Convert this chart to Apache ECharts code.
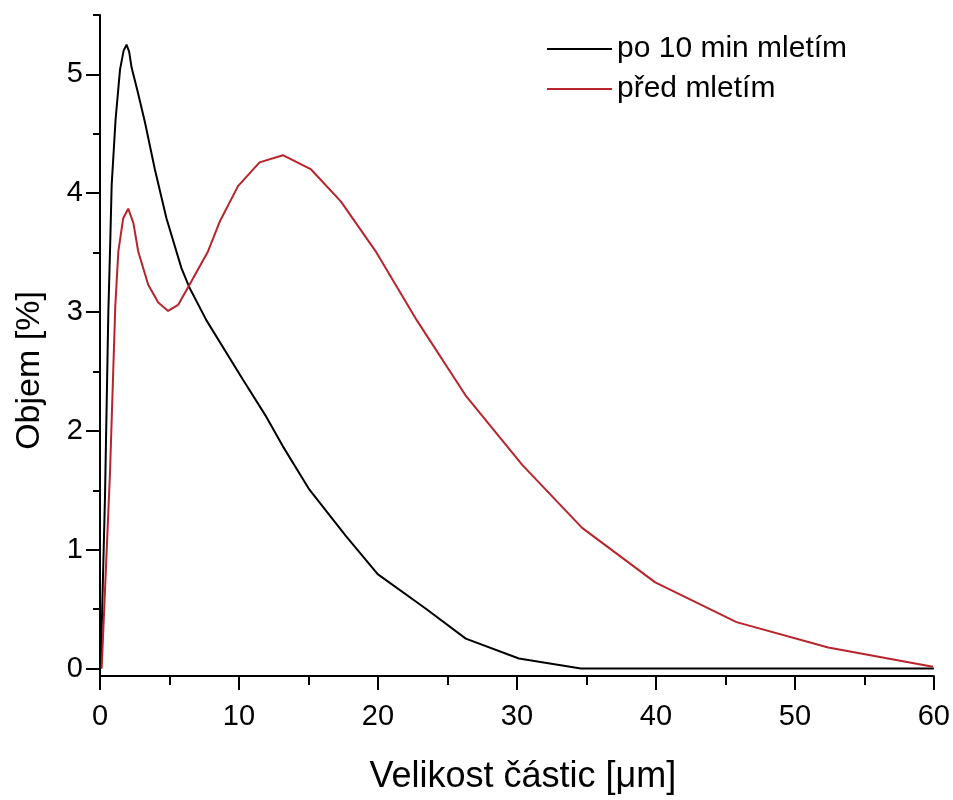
<!DOCTYPE html>
<html>
<head>
<meta charset="utf-8">
<script src="https://cdn.jsdelivr.net/npm/echarts@6/dist/echarts.min.js"></script>
<style>html,body{margin:0;padding:0;background:#fff}#c{width:953px;height:800px}</style>
</head>
<body>
<div id="c"></div>
<script>
// Series 1: po 10 min mletím (black)
const milledSize = [0.05,0.36,0.6,0.72,0.84,1.12,1.44,1.7,1.91,2.1,2.27,2.7,3.23,3.95,4.78,5.86,6.46,7.66,10.29,11.96,13.16,15.07,17.7,19.98,23.45,26.32,30.14,34.6,60];
const milledVol  = [0,1.45,3.0,3.51,4.07,4.62,5.04,5.2,5.25,5.19,5.06,4.86,4.6,4.2,3.79,3.37,3.2,2.93,2.43,2.12,1.87,1.505,1.115,0.795,0.503,0.252,0.085,0,0];
// Series 2: před mletím (red)
const rawSize = [0.12,0.72,1.1,1.32,1.67,2.03,2.4,2.75,3.47,4.19,4.9,5.62,6.58,7.77,8.61,9.93,11.48,13.16,15.19,17.34,19.9,22.8,26.3,30.38,34.69,39.95,45.8,52.4,59.93];
const rawVol  = [0,1.65,3.05,3.51,3.79,3.87,3.75,3.51,3.23,3.08,3.01,3.06,3.26,3.51,3.76,4.06,4.26,4.32,4.2,3.93,3.5,2.93,2.3,1.714,1.184,0.725,0.391,0.177,0.015];
// Axis ticks
const xTicks = [0,10,20,30,40,50,60];
const xMinorTicks = [5,15,25,35,45,55];
const yTicks = [0,1,2,3,4,5];
const yMinorTicks = [0.5,1.5,2.5,3.5,4.5,5.5];
const seriesNames = ['po 10 min mletím','před mletím'];

const FONT = 'Liberation Sans, Arial, Helvetica, sans-serif';
const zip = (a,b) => a.map((v,i)=>[v,b[i]]);

const chart = echarts.init(document.getElementById('c'), null, {renderer:'canvas'});
const axisLineStyle = {color:'#000', width:2};
chart.setOption({
  backgroundColor:'#fff',
  animation:false,
  grid:{left:100, right:17, top:15, bottom:119},
  legend:{
    orient:'vertical', left:542, top:24, itemWidth:65, itemHeight:2, itemGap:0,
    icon:'rect',
    textStyle:{fontFamily:FONT, fontSize:30, color:'#000', lineHeight:40},
    data:seriesNames
  },
  xAxis:[{
    type:'value', min:0, max:60, position:'bottom',
    name:'Velikost částic [μm]', nameLocation:'middle', nameGap:83,
    nameTextStyle:{fontFamily:FONT, fontSize:36, color:'#000', padding:[0,0,0,12]},
    axisLine:{show:true, onZero:false, lineStyle:axisLineStyle},
    axisTick:{show:true, customValues:xTicks, length:14, lineStyle:axisLineStyle},
    axisLabel:{customValues:xTicks, margin:26, fontFamily:FONT, fontSize:29, color:'#000'},
    splitLine:{show:false}
  },{
    type:'value', min:0, max:60, position:'bottom',
    axisLine:{show:false, onZero:false},
    axisTick:{show:true, customValues:xMinorTicks, length:9, lineStyle:axisLineStyle},
    axisLabel:{show:false},
    splitLine:{show:false}
  }],
  yAxis:[{
    type:'value', min:-0.0625, max:5.5, position:'left',
    name:'Objem [%]', nameLocation:'middle', nameGap:53, nameRotate:90,
    nameTextStyle:{fontFamily:FONT, fontSize:34, color:'#000', padding:[0,50,0,0]},
    axisLine:{show:true, onZero:false, lineStyle:axisLineStyle},
    axisTick:{show:true, customValues:yTicks, length:14, lineStyle:axisLineStyle},
    axisLabel:{customValues:yTicks, margin:17, fontFamily:FONT, fontSize:29, color:'#000'},
    splitLine:{show:false}
  },{
    type:'value', min:-0.0625, max:5.5, position:'left',
    axisLine:{show:false, onZero:false},
    axisTick:{show:true, customValues:yMinorTicks, length:7, lineStyle:axisLineStyle},
    axisLabel:{show:false},
    splitLine:{show:false}
  }],
  series:[{
    name:seriesNames[0], type:'line', xAxisIndex:0, yAxisIndex:0,
    data:zip(milledSize, milledVol), showSymbol:false, smooth:false,
    color:'#000', lineStyle:{color:'#000', width:2}
  },{
    name:seriesNames[1], type:'line', xAxisIndex:0, yAxisIndex:0,
    data:zip(rawSize, rawVol), showSymbol:false, smooth:false,
    color:'#b8242b', lineStyle:{color:'#b8242b', width:2}
  }]
});
</script>
</body>
</html>
